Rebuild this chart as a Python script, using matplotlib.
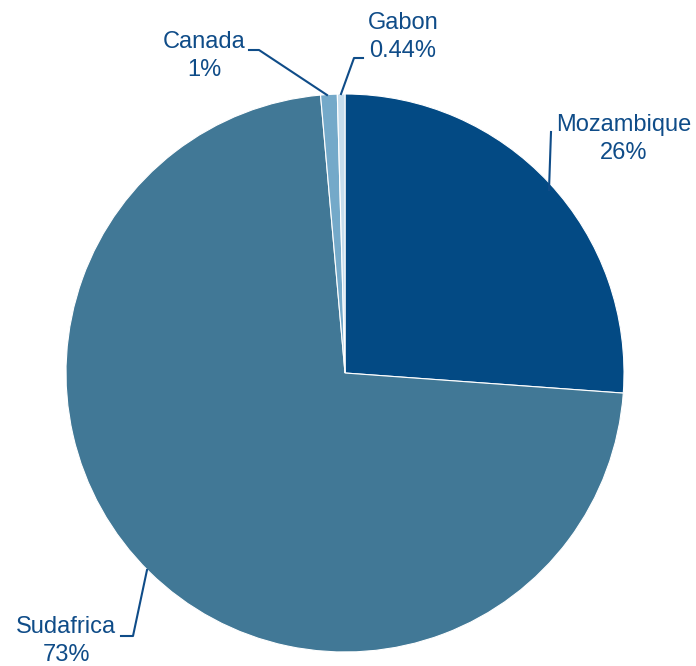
import matplotlib.pyplot as plt

# data
countries = ['Mozambique', 'Sudafrica', 'Canada', 'Gabon']
shares = [26.2, 72.6, 0.96, 0.44]
share_labels = ['26%', '73%', '1%', '0.44%']
colors = ['#034a84', '#417896', '#74a9c9', '#c6dded']

H = 666
text_col = '#0f4c88'

fig = plt.figure(figsize=(6.96, 6.66), dpi=100)
ax = fig.add_axes([0, 0, 1, 1])

ax.pie(shares, colors=colors, startangle=90, counterclock=False,
       center=(345, H - 373), radius=279,
       wedgeprops=dict(edgecolor='white', linewidth=0.8))

# pie() resets the limits, so set them afterwards
ax.set_xlim(0, 696)
ax.set_ylim(0, H)
ax.set_aspect('equal')
ax.axis('off')

# label centres (pixel coords, y from top) and leader lines
label_pos = {
    'Mozambique': (624, 139),
    'Sudafrica': (66, 641),
    'Canada': (204, 56),
    'Gabon': (403, 37),
}
leaders = {
    'Mozambique': [(549, 190), (551, 132)],
    'Sudafrica': [(147, 570), (133, 636), (121, 636)],
    'Canada': [(327, 95), (259, 50), (249, 50)],
    'Gabon': [(341, 94), (354, 58), (363, 58)],
}

for name, lab in zip(countries, share_labels):
    x, y = label_pos[name]
    ax.text(x, H - y, name + '\n' + lab, ha='center', va='center',
            fontsize=17, color=text_col, family='Liberation Sans',
            linespacing=1.4)
    pts = leaders[name]
    ax.plot([p[0] for p in pts], [H - p[1] for p in pts],
            color=text_col, lw=1.5)

fig.savefig('out.png', dpi=100)
